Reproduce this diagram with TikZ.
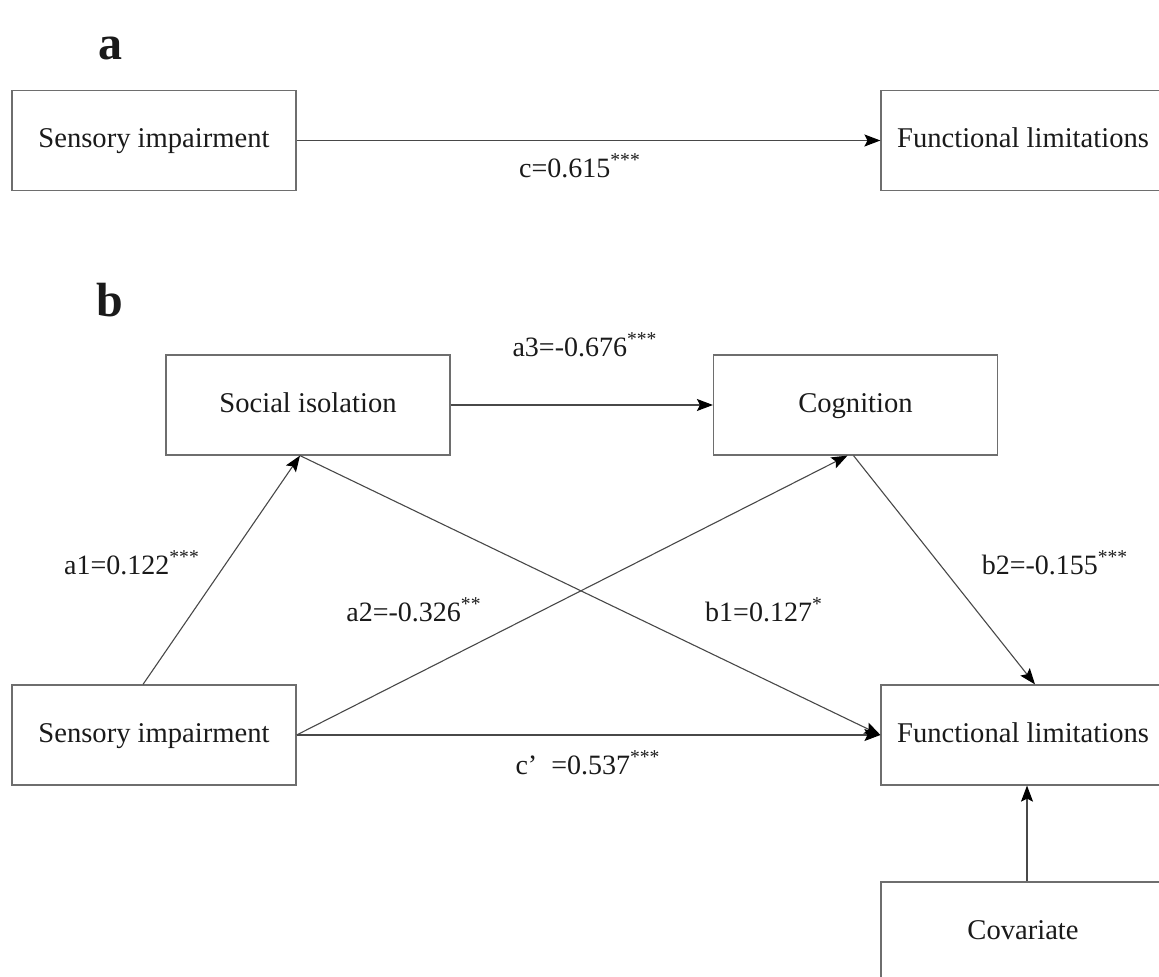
\documentclass[tikz,border=0pt]{standalone}
\usepackage{fontspec}
\setmainfont{Liberation Serif}
\usetikzlibrary{positioning,arrows.meta}
\definecolor{frame}{HTML}{6E6E6E}
\definecolor{ink}{HTML}{1A1A1A}
\tikzset{
  varbox/.style={draw=frame, line width=0.6pt, minimum width=142pt, minimum height=50pt,
    inner sep=0pt, text height=0.75em, text depth=0pt, font=\fontsize{14.3}{17}\selectfont, text=ink},
  link/.style={draw=ink!80, line width=0.55pt, -{Stealth[length=8pt,width=6pt,inset=1.5pt,color=black]}},
  coef/.style={font=\fontsize{14}{16}\selectfont, text=ink},
  panel/.style={font=\fontsize{24}{28}\selectfont\bfseries, text=ink}
}
\begin{document}
\begin{tikzpicture}[x=0.5pt,y=-0.5pt]
\clip (0,0) rectangle (1159,977);
% panel a: total effect
\node[panel] (lblA) at (110,48) {a};
\node[varbox] (sensA) at (154,140.5) {Sensory impairment};
\node[varbox] (funcA) at (1023,140.5) {Functional limitations};
\draw[link] (sensA) -- (funcA);
\node[coef] (cA) at (580,166) {c=0.615\textsuperscript{***}};
% panel b: serial mediation
\node[panel] (lblB) at (110,300) {b};
\node[varbox] (socB) at (308,405) {Social isolation};
\node[varbox] (cogB) at (855.5,405) {Cognition};
\node[varbox] (sensB) at (154,735) {Sensory impairment};
\node[varbox] (funcB) at (1023,735) {Functional limitations};
\node[varbox] (covB) at (1023,932) {Covariate};
% paths
\draw[link] (socB) -- (cogB);
\draw[link] ([xshift=-5.5pt]sensB.north) -- ([xshift=-4pt]socB.south);
\draw[link] ([xshift=-4pt]socB.south) -- (funcB.west);
\draw[link] (sensB.east) -- ([xshift=-4pt]cogB.south);
\draw[link] ([xshift=-1pt]cogB.south) -- ([xshift=6pt]funcB.north);
\draw[link] (sensB) -- (funcB);
\draw[link] ([xshift=2pt]covB.north) -- ([xshift=2pt]funcB.south);
% coefficients
\node[coef] (a3) at (585,345) {a3=-0.676\textsuperscript{***}};
\node[coef] (a1) at (132,563) {a1=0.122\textsuperscript{***}};
\node[coef] (a2) at (414,610) {a2=-0.326\textsuperscript{**}};
\node[coef] (b1) at (764,610) {b1=0.127\textsuperscript{*}};
\node[coef] (b2) at (1055,563) {b2=-0.155\textsuperscript{***}};
\node[coef] (cB) at (588,763) {c’\enspace=0.537\textsuperscript{***}};
\end{tikzpicture}
\end{document}
